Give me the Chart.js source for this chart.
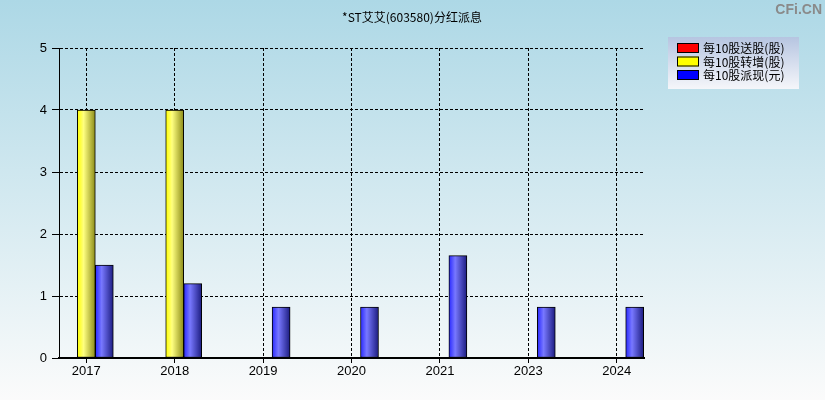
<!DOCTYPE html>
<html>
<head>
<meta charset="utf-8">
<script src="https://cdn.jsdelivr.net/npm/chart.js@4"></script>
<style>
  html, body { margin: 0; padding: 0; }
</style>
</head>
<body>
<canvas id="divChart" width="825" height="400"></canvas>
<script>
const years = ['2017', '2018', '2019', '2020', '2021', '2023', '2024'];
const songGu = [0, 0, 0, 0, 0, 0, 0];        // 每10股送股(股)
const zhuanZeng = [4, 4, 0, 0, 0, 0, 0];     // 每10股转增(股)
const paiXian = [1.5, 1.2, 0.82, 0.82, 1.65, 0.82, 0.82]; // 每10股派现(元)
const yTicks = [0, 1, 2, 3, 4, 5];

const seriesNames = ['每10股送股(股)', '每10股转增(股)', '每10股派现(元)'];
const swatch = ['#ff0000', '#ffff00', '#0000ff'];
const cjk = '"Noto Sans CJK SC", "Liberation Sans", sans-serif';

// horizontal shading on each bar, like the original picture
const shades = [
  ['#ff2020', '#ff8080', '#901010'],
  ['#ffff00', '#ffff80', '#8c8c18'],
  ['#2828ff', '#7878ff', '#1c1c80']
];

function barFill(ctx) {
  const chart = ctx.chart;
  const ds = ctx.datasetIndex;
  const stops = shades[ds];
  if (!chart.chartArea || ctx.dataIndex === undefined) return stops[0];
  const cx = chart.scales.x.getPixelForValue(ctx.dataIndex) + (ds - 1) * 18;
  const g = chart.ctx.createLinearGradient(cx - 9, 0, cx + 9, 0);
  g.addColorStop(0, stops[0]);
  g.addColorStop(0.35, stops[1]);
  g.addColorStop(1, stops[2]);
  return g;
}

function toPoints(arr) {
  return arr.map((v, i) => ({ x: i, y: v }));
}

const decor = {
  id: 'decor',
  beforeDraw(chart) {
    const c = chart.ctx;
    const bg = c.createLinearGradient(0, 0, 0, chart.height);
    bg.addColorStop(0, '#add8e6');
    bg.addColorStop(1, '#fbfbfb');
    c.save();
    c.fillStyle = bg;
    c.fillRect(0, 0, chart.width, chart.height);
    c.restore();
  },
  afterDraw(chart) {
    const c = chart.ctx;
    c.save();
    // title
    c.fillStyle = '#000';
    c.font = '12px ' + cjk;
    c.textAlign = 'center';
    c.textBaseline = 'middle';
    c.fillText('*ST艾艾(603580)分红派息', 412, 17);

    // watermark
    c.fillStyle = '#8a8a8a';
    c.font = 'bold 14px "Liberation Sans", sans-serif';
    c.textAlign = 'right';
    c.fillText('CFi.CN', 822, 10);

    // legend box
    const lg = c.createLinearGradient(0, 37, 0, 89);
    lg.addColorStop(0, '#b6c5e1');
    lg.addColorStop(1, '#f5f6fa');
    c.fillStyle = lg;
    c.fillRect(668, 37, 131, 52);
    c.font = '12px ' + cjk;
    c.textAlign = 'left';
    seriesNames.forEach((name, i) => {
      const y = 48 + i * 13.5;
      c.fillStyle = swatch[i];
      c.fillRect(677, y - 5, 22, 10);
      c.strokeStyle = '#000';
      c.lineWidth = 1;
      c.strokeRect(677.5, y - 4.5, 21, 9);
      c.fillStyle = '#000';
      c.fillText(name, 703, y + 0.5);
    });
    c.restore();
  }
};

const barStyle = {
  barThickness: 18,
  borderColor: '#000',
  borderWidth: 1,
  borderSkipped: false,
  backgroundColor: barFill
};

new Chart(document.getElementById('divChart'), {
  type: 'bar',
  data: {
    datasets: [
      Object.assign({ label: seriesNames[0], data: toPoints(songGu) }, barStyle),
      Object.assign({ label: seriesNames[1], data: toPoints(zhuanZeng) }, barStyle),
      Object.assign({ label: seriesNames[2], data: toPoints(paiXian) }, barStyle)
    ]
  },
  options: {
    responsive: false,
    animation: false,
    maintainAspectRatio: false,
    layout: { padding: { left: 0, right: 181, top: 48, bottom: 0 } },
    plugins: {
      legend: { display: false },
      title: { display: false },
      tooltip: { enabled: false }
    },
    scales: {
      x: {
        type: 'linear',
        offset: false,
        min: -0.309,
        max: 6.309,
        afterBuildTicks: s => { s.ticks = years.map((_, i) => ({ value: i })); },
        afterFit: s => { s.height = 42; },
        ticks: {
          callback: v => years[v],
          color: '#000',
          font: { family: '"Liberation Sans", sans-serif', size: 13 },
          padding: 1,
          maxRotation: 0,
          autoSkip: false
        },
        grid: {
          offset: false,
          color: '#000',
          lineWidth: 1,
          tickLength: 5,
          tickColor: '#000'
        },
        border: { display: true, color: '#000', width: 2, dash: [3, 2] }
      },
      y: {
        min: 0,
        max: 5,
        afterBuildTicks: s => { s.ticks = yTicks.map(v => ({ value: v })); },
        afterFit: s => { s.width = 59; },
        ticks: {
          color: '#000',
          font: { family: '"Liberation Sans", sans-serif', size: 13 },
          padding: 5,
          autoSkip: false
        },
        grid: {
          color: '#000',
          lineWidth: 1,
          tickLength: 7,
          tickColor: '#000'
        },
        border: { display: true, color: '#000', width: 1, dash: [3, 2] }
      }
    }
  },
  plugins: [decor]
});
</script>
</body>
</html>
